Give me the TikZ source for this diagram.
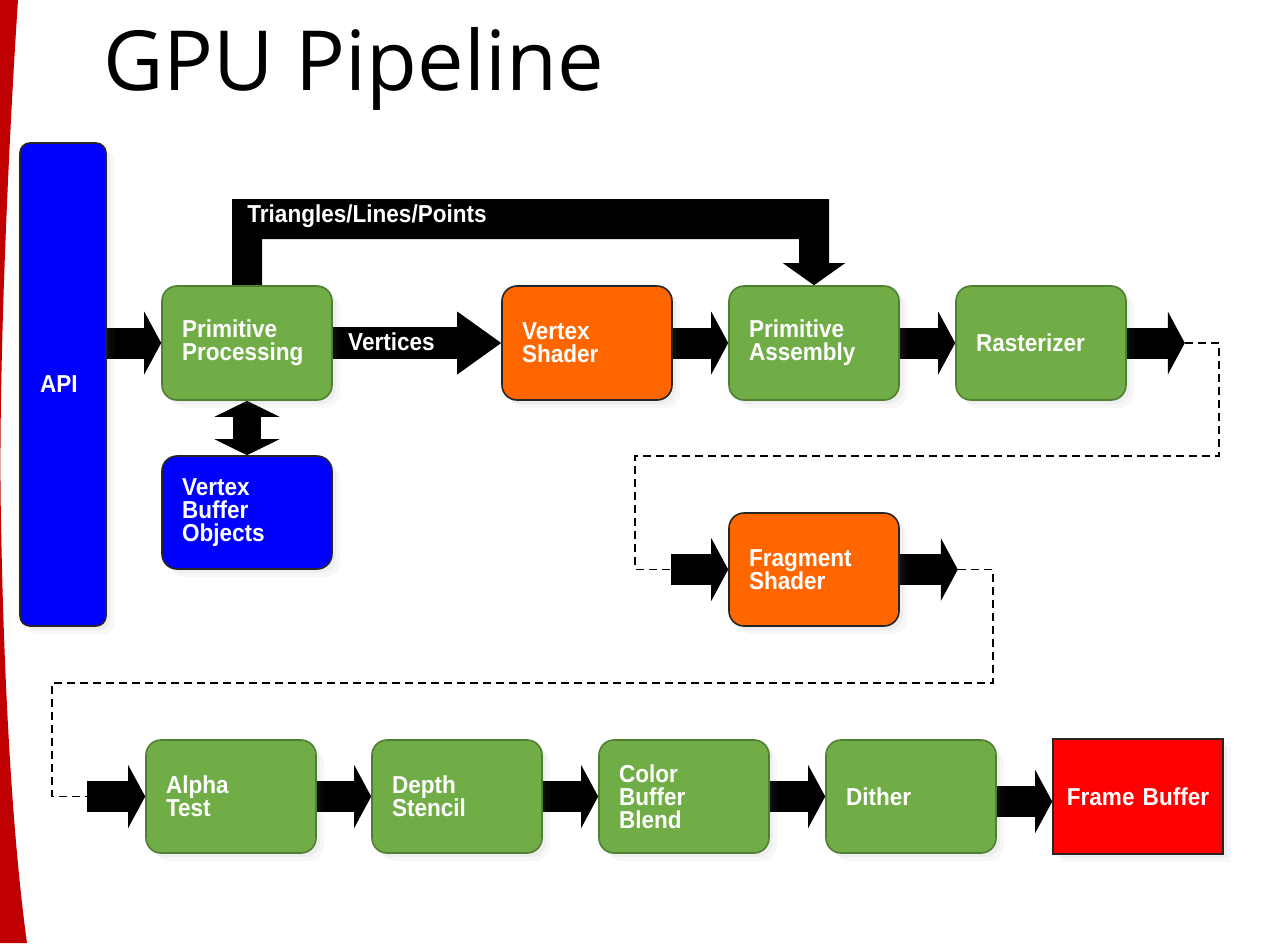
\documentclass[tikz,border=0pt]{standalone}
\usepackage{fontspec}
\setmainfont{Liberation Sans}
\newfontfamily\boxfont[FakeStretch=0.92]{Liberation Sans}
\newfontfamily\titlefont{Open Sans}
\usetikzlibrary{arrows.meta,calc,shadows}
\definecolor{grn}{HTML}{70AD47}
\definecolor{grnd}{HTML}{507E32}
\definecolor{org}{HTML}{FF6600}
\definecolor{blu}{HTML}{0000FF}
\definecolor{rd}{HTML}{FF0000}
\definecolor{edgered}{HTML}{C00000}
\pgfdeclarelayer{back}
\pgfdeclarelayer{bg}
\pgfsetlayers{back,bg,main}
\newcommand{\bxfont}{\boxfont\bfseries\fontsize{12.25}{11.5}\selectfont}
\begin{document}
\begin{tikzpicture}[x=0.5pt,y=-0.5pt,
  box/.style={rounded corners=7.5pt, minimum width=85pt, minimum height=57pt,
    inner xsep=10pt, inner ysep=0pt, text width=65pt, align=left,
    font=\bxfont, text=white, line width=0.8pt,
    drop shadow={shadow xshift=4pt, shadow yshift=-4pt, opacity=0.06},
    drop shadow={shadow xshift=2pt, shadow yshift=-2pt, opacity=0.07}},
  gbox/.style={box, fill=grn, draw=grnd},
  obox/.style={box, fill=org, draw=black!85},
  bbox/.style={box, fill=blu, draw=black!85},
  arr/.style={line width=15.5pt, -{Triangle[length=8.5pt, width=31.5pt, line width=0pt]}},
  arrlong/.style={line width=16pt, -{Triangle[length=22pt, width=31.5pt, line width=0pt]}},
  darr/.style={line width=14pt, {Triangle[length=8pt, width=32.5pt, line width=0pt]}-{Triangle[length=8pt, width=32.5pt, line width=0pt]}},
  dline/.style={dashed, dash pattern=on 4pt off 2.5pt, line width=0.9pt},
  lbl/.style={font=\bxfont, text=white, inner sep=0pt}
]
\useasboundingbox (0,0) rectangle (1262,943);
\begin{pgfonlayer}{back}
\fill[white] (0,0) rectangle (1262,943);
% red edge
\fill[edgered] (0,0) -- (18,0) .. controls (8,150) and (-2,380) .. (1,520)
  .. controls (4,700) and (14,850) .. (27,943) -- (0,943) -- cycle;
\end{pgfonlayer}

% title
\node[anchor=base west, font=\titlefont\fontsize{41.5}{46}\selectfont, inner sep=0pt] (title) at (103,90) {GPU Pipeline};

% nodes
\node[bbox, rounded corners=5pt, minimum width=43pt, text width=23pt, minimum height=241.5pt] (api) at (63,384.5) {API};
\node[gbox] (pp) at (247,343) {Primitive\\Processing};
\node[obox] (vs) at (587,343) {Vertex\\Shader};
\node[gbox] (pa) at (814,343) {Primitive\\Assembly};
\node[gbox] (ras) at (1041,343) {Rasterizer};
\node[bbox, minimum height=56.5pt] (vbo) at (247,512.5) {Vertex\\Buffer\\Objects};
\node[obox, minimum height=56.5pt] (fs) at (814,569.5) {Fragment\\Shader};
\node[gbox, minimum height=56.5pt] (at) at (231,796.5) {Alpha\\Test};
\node[gbox, minimum height=56.5pt] (ds) at (457,796.5) {Depth\\Stencil};
\node[gbox, minimum height=56.5pt] (cb) at (684,796.5) {Color\\Buffer\\Blend};
\node[gbox, minimum height=56.5pt] (di) at (911,796.5) {Dither};
\node[box, rounded corners=0pt, fill=rd, draw=black!85, minimum height=57.5pt, inner xsep=2pt, text width=81pt, align=center] (fb) at (1138,796.5) {Frame Buffer};

% free ends of the connectors
\coordinate (rt) at ($(ras.east)+(58,0)$);
\coordinate (fsin) at ($(fs.west)+(-57,0)$);
\coordinate (ft) at ($(fs.east)+(58,0)$);
\coordinate (atin) at ($(at.west)+(-58,0)$);

\begin{pgfonlayer}{bg}
\draw[arr] (api.east |- pp.west) -- (pp.west);
\draw[arrlong] (pp.east) -- (vs.west);
\node[lbl, anchor=west] (vlbl) at ($(pp.east)+(15,-1)$) {Vertices};
\draw[arr] (vs.east) -- (pa.west);
\draw[arr] (pa.east) -- (ras.west);
\draw[arr] (ras.east) -- (rt);
\draw[darr] (pp.south) -- (vbo.north);
% Triangles/Lines/Points
\fill ($(pp.north)+(-15,0)$) -- ($(pp.north)+(-15,-86)$) -- ($(pa.north)+(15,-86)$)
  -- ($(pa.north)+(15,-22)$) -- ($(pa.north)+(31,-22)$) -- (pa.north)
  -- ($(pa.north)+(-31,-22)$) -- ($(pa.north)+(-15,-22)$) -- ($(pa.north)+(-15,-46)$)
  -- ($(pp.north)+(15,-46)$) -- ($(pp.north)+(15,0)$) -- cycle;
\node[lbl, anchor=west] (tlbl) at ($(pp.north)+(0,-69)$) {Triangles/Lines/Points};
% dashed links
\draw[dline] (rt) -- ++(34,0) -- ++(0,113) -| ($(fsin)+(-36,0)$) -- (fsin);
\draw[arr] (fsin) -- (fs.west);
\draw[arr] (fs.east) -- (ft);
\draw[dline] (ft) -- ++(35,0) -- ++(0,113.5) -| ($(atin)+(-35,0)$) -- (atin);
\draw[arr] (atin) -- (at.west);
\draw[arr] (at.east) -- (ds.west);
\draw[arr] (ds.east) -- (cb.west);
\draw[arr] (cb.east) -- (di.west);
\draw[arr] ($(di.east)+(0,5)$) -- ($(fb.west)+(0,5)$);
\end{pgfonlayer}
\end{tikzpicture}
\end{document}
